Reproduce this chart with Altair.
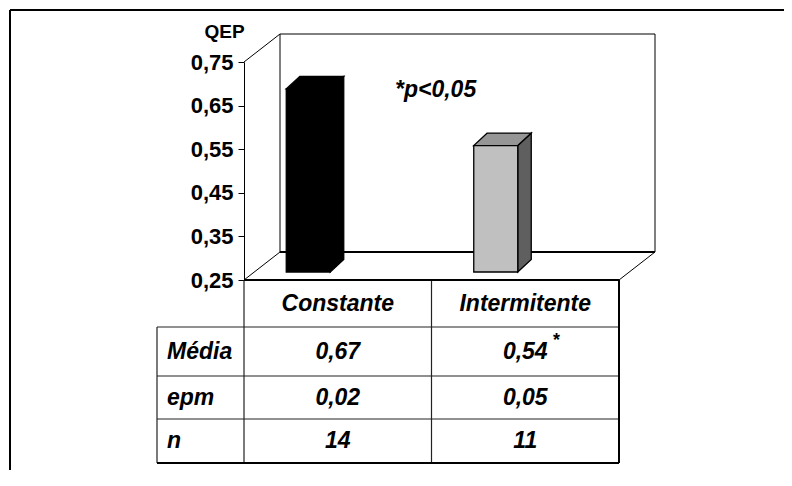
import altair as alt
import pandas as pd

# ---------------- data ----------------
categories = ["Constante", "Intermitente"]
media = [0.67, 0.54]
epm = [0.02, 0.05]
n_values = [14, 11]
sig = ["", "*"]
row_labels = ["Média", "epm", "n"]
y_ticks = [0.25, 0.35, 0.45, 0.55, 0.65, 0.75]
annotation = ["*p<0,05"]
front_colors = ["#000000", "#C0C0C0"]
top_colors = ["#000000", "#969696"]
side_colors = ["#000000", "#5F5F5F"]

# ---------------- layout ----------------
PX_U = 187.5   # pixels per category unit
PX_Q = 436.0   # pixels per QEP unit
W, H = 540, 218
Y0, Y1 = 0.25, 0.75
X0 = 0.5
X1 = X0 + W / PX_U
CAT_R = X0 + len(categories)
FONT = "Liberation Sans"


def du(px):
    return px / PX_U


def dq(px):
    return px / PX_Q


WALL_DX, WALL_DY = du(36), dq(28)
BAR_DX, BAR_DY = du(13.5), dq(12.5)
BAR_LIFT = dq(8)
BAR_W = du(44)
BAR_SHIFT = du(-29.5)
ROW_PX = [47, 49, 43, 44]
LABEL_COL = du(87)
TABLE_L = X0 - LABEL_COL

xscale = alt.Scale(domain=[X0, X1], nice=False, zero=False)
yscale = alt.Scale(domain=[Y0, Y1], nice=False, zero=False)

Y_AXIS = alt.Axis(
    values=y_ticks, title="QEP", titleAngle=0, titleX=-20, titleY=-25,
    titleAlign="center", titleBaseline="alphabetic",
    titleFont=FONT, titleFontSize=19, titleFontWeight="bold", titleColor="black",
    labelExpr="replace(format(datum.value, '.2f'), '.', ',')",
    labelFont=FONT, labelFontSize=22, labelFontWeight="bold", labelColor="black",
    labelPadding=5, tickSize=6, tickColor="black", tickWidth=1,
    domainColor="black", domainWidth=1, grid=False)


def XQ(f):
    return alt.X(f"{f}:Q", scale=xscale, axis=None, stack=None)


def YQ(f):
    return alt.Y(f"{f}:Q", scale=yscale, axis=Y_AXIS, stack=None)


def fmt(v):
    return f"{v:.2f}".replace(".", ",")


# ---------------- walls / floor ----------------
back_df = pd.DataFrame([{"x": X0 + WALL_DX, "x2": CAT_R + WALL_DX,
                         "y": Y0 + WALL_DY, "y2": Y1 + WALL_DY}])
back = alt.Chart(back_df).mark_rect(fill="white", stroke="black", strokeWidth=1).encode(
    x=XQ("x"), x2="x2", y=YQ("y"), y2="y2")

thin_lines = pd.DataFrame([
    {"x": X0, "y": Y1, "x2": X0 + WALL_DX, "y2": Y1 + WALL_DY},
    {"x": X0, "y": Y0, "x2": X0 + WALL_DX, "y2": Y0 + WALL_DY},
    {"x": CAT_R, "y": Y0, "x2": CAT_R + WALL_DX, "y2": Y0 + WALL_DY},
])
thin = alt.Chart(thin_lines).mark_rule(color="black", strokeWidth=1).encode(
    x=XQ("x"), x2="x2", y=YQ("y"), y2="y2")

bounds = [Y0]
for h in ROW_PX:
    bounds.append(bounds[-1] - dq(h))

thick_lines = pd.DataFrame([
    {"x": X0 + WALL_DX, "y": Y0 + WALL_DY, "x2": CAT_R + WALL_DX, "y2": Y0 + WALL_DY},
    {"x": X0, "y": Y0, "x2": CAT_R, "y2": Y0},
    {"x": TABLE_L, "y": bounds[4], "x2": CAT_R, "y2": bounds[4]},
    {"x": CAT_R, "y": bounds[0], "x2": CAT_R, "y2": bounds[4]},
])
thick = alt.Chart(thick_lines).mark_rule(color="black", strokeWidth=2).encode(
    x=XQ("x"), x2="x2", y=YQ("y"), y2="y2")

table_lines = pd.DataFrame(
    [{"x": TABLE_L, "y": bounds[i], "x2": CAT_R, "y2": bounds[i]} for i in (1, 2, 3)]
    + [{"x": TABLE_L, "y": bounds[1], "x2": TABLE_L, "y2": bounds[4]},
       {"x": X0, "y": bounds[0], "x2": X0, "y2": bounds[4]},
       {"x": X0 + 1, "y": bounds[0], "x2": X0 + 1, "y2": bounds[4]}]
)
tlines = alt.Chart(table_lines).mark_rule(color="#222222", strokeWidth=1.2).encode(
    x=XQ("x"), x2="x2", y=YQ("y"), y2="y2")

# ---------------- 3D bars ----------------
front_rows, top_rows, side_rows = [], [], []
for i, (cat, v) in enumerate(zip(categories, media)):
    k = i + 1
    xc = k + BAR_SHIFT
    xl, xr = xc - BAR_W / 2, xc + BAR_W / 2
    yb, yt = Y0 + BAR_LIFT, v + BAR_LIFT
    front_rows.append({"bar": cat, "xl": xl, "xr": xr, "yb": yb, "yt": yt,
                       "fill": front_colors[i]})
    top_rows += [
        {"bar": cat, "y": yt, "xa": xl, "xb": xr, "fill": top_colors[i]},
        {"bar": cat, "y": yt + BAR_DY, "xa": xl + BAR_DX, "xb": xr + BAR_DX,
         "fill": top_colors[i]},
    ]
    side_rows += [
        {"bar": cat, "x": xr, "ya": yb, "yb2": yt, "fill": side_colors[i]},
        {"bar": cat, "x": xr + BAR_DX, "ya": yb + BAR_DY, "yb2": yt + BAR_DY,
         "fill": side_colors[i]},
    ]

front = alt.Chart(pd.DataFrame(front_rows)).mark_rect(
    stroke="black", strokeWidth=1.3, opacity=1).encode(
    x=XQ("xl"), x2="xr", y=YQ("yb"), y2="yt",
    fill=alt.Fill("fill:N", scale=None))

top = alt.Chart(pd.DataFrame(top_rows)).mark_area(
    orient="horizontal", stroke="black", strokeWidth=1.3, opacity=1).encode(
    y=YQ("y"), x=XQ("xa"), x2="xb",
    detail="bar:N", fill=alt.Fill("fill:N", scale=None))

side = alt.Chart(pd.DataFrame(side_rows)).mark_area(
    orient="vertical", stroke="black", strokeWidth=1.3, opacity=1).encode(
    x=XQ("x"), y=YQ("ya"), y2="yb2",
    detail="bar:N", fill=alt.Fill("fill:N", scale=None))

# ---------------- y axis anchor layer ----------------
axis_df = pd.DataFrame({"v": y_ticks})
axis_layer = alt.Chart(axis_df).mark_point(opacity=0).encode(
    x=alt.value(0), y=YQ("v"))

# ---------------- annotation ----------------
ann = alt.Chart(pd.DataFrame({"t": annotation, "x": [X0 + du(151)], "y": [Y1 - dq(35)]})
                ).mark_text(align="left", baseline="alphabetic", font=FONT, fontSize=23,
                            fontWeight="bold", fontStyle="italic", color="black").encode(
    x=XQ("x"), y=YQ("y"), text="t:N")

# ---------------- table text ----------------
txt_rows = []
for i, cat in enumerate(categories):
    txt_rows.append({"t": cat, "x": X0 + 0.5 + i, "y": (bounds[0] + bounds[1]) / 2,
                     "a": "center"})
cols = [[fmt(v) for v in media], [fmt(v) for v in epm], [str(v) for v in n_values]]
for r, lab in enumerate(row_labels):
    yc = (bounds[r + 1] + bounds[r + 2]) / 2
    txt_rows.append({"t": lab, "x": TABLE_L + du(10), "y": yc, "a": "left"})
    for i in range(len(categories)):
        txt_rows.append({"t": cols[r][i], "x": X0 + 0.5 + i, "y": yc, "a": "center"})
txt_df = pd.DataFrame(txt_rows)

txt_center = alt.Chart(txt_df[txt_df.a == "center"]).mark_text(
    align="center", baseline="middle", font=FONT, fontSize=23, fontWeight="bold",
    fontStyle="italic", color="black").encode(x=XQ("x"), y=YQ("y"), text="t:N")
txt_left = alt.Chart(txt_df[txt_df.a == "left"]).mark_text(
    align="left", baseline="middle", font=FONT, fontSize=23, fontWeight="bold",
    fontStyle="italic", color="black").encode(x=XQ("x"), y=YQ("y"), text="t:N")

sig_df = pd.DataFrame({"t": sig, "x": [X0 + 0.5 + i + du(27) for i in range(len(sig))],
                       "y": [bounds[1] - dq(5)] * len(sig)})
sig_layer = alt.Chart(sig_df).mark_text(
    align="left", baseline="top", font=FONT, fontSize=18, fontWeight="bold",
    fontStyle="italic", color="black").encode(x=XQ("x"), y=YQ("y"), text="t:N")

# ---------------- outer frame ----------------
one = pd.DataFrame({"d": [0]})
frame_top = alt.Chart(one).mark_rule(color="black", strokeWidth=2).encode(
    x=alt.value(-234), x2=alt.value(W + 10), y=alt.value(-52))
frame_left = alt.Chart(one).mark_rule(color="black", strokeWidth=2).encode(
    x=alt.value(-234), y=alt.value(-52), y2=alt.value(H + 200))

chart = alt.layer(
    axis_layer, frame_top, frame_left, back, thin, tlines, thick,
    side, top, front, ann, txt_center, txt_left, sig_layer
).properties(
    width=W, height=H,
    autosize=alt.AutoSizeParams(type="none"),
    padding={"left": 236, "top": 54, "right": 0, "bottom": 190},
).configure_view(stroke=None)

chart.save("out.html", embed_options={"renderer": "svg", "actions": False})
